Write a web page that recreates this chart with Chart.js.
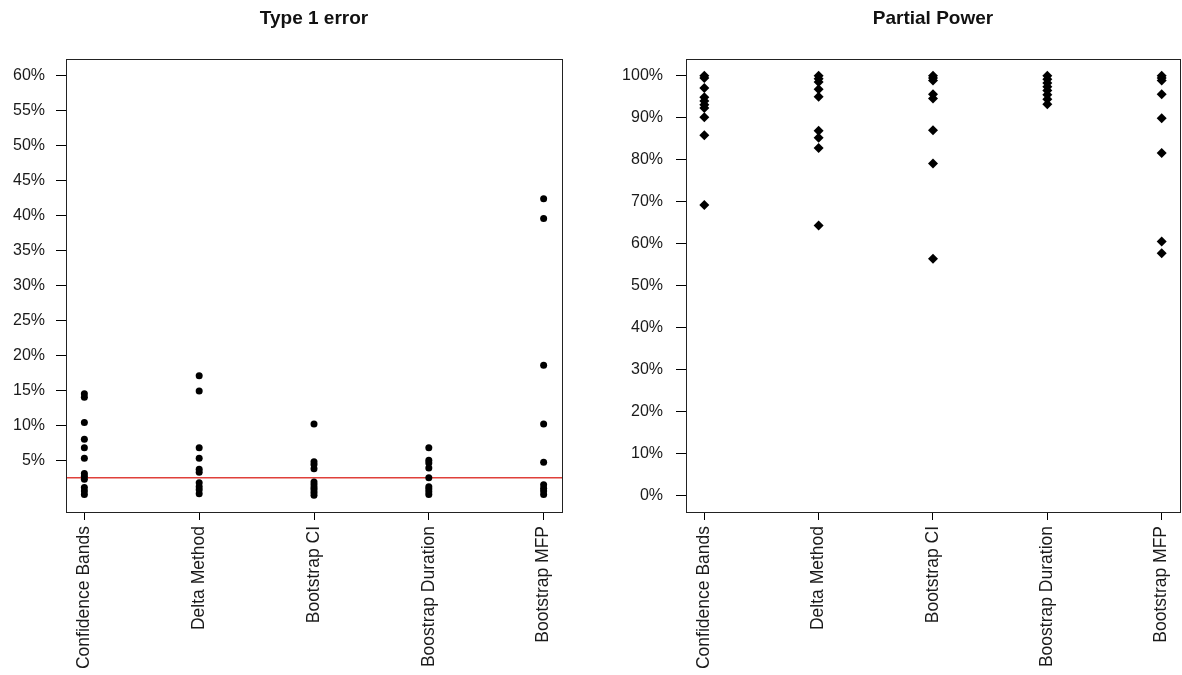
<!DOCTYPE html>
<html>
<head>
<meta charset="utf-8">
<script src="https://cdn.jsdelivr.net/npm/chart.js@4.4.1/dist/chart.umd.min.js"></script>
<style>
  html, body { margin: 0; padding: 0; background: #fff; overflow: hidden; }
  #wrap { position: relative; width: 1182px; height: 675px; overflow: hidden; }
  .cv { position: absolute; top: 0; height: 675px; }
</style>
</head>
<body>
<div id="wrap">
  <div class="cv" style="left:0;width:591px"><canvas id="c1" width="591" height="675"></canvas></div>
  <div class="cv" style="left:591px;width:598px"><canvas id="c2" width="598" height="675"></canvas></div>
</div>
<script>
// ---- data ----
const categories = ['Confidence Bands', 'Delta Method', 'Bootstrap CI', 'Boostrap Duration', 'Bootstrap MFP'];

// Type 1 error (%)
const t1ConfidenceBands = [14.5, 14.0, 10.4, 8.0, 6.8, 5.3, 3.1, 2.7, 2.3, 1.1, 0.6, 0.1];
const t1DeltaMethod     = [17.1, 14.9, 6.8, 5.3, 3.7, 3.3, 1.8, 1.2, 0.8, 0.2];
const t1BootstrapCI     = [10.2, 4.8, 4.4, 3.8, 1.9, 1.5, 1.1, 0.8, 0.4, 0.0];
const t1BootDuration    = [6.8, 5.0, 4.6, 3.9, 2.5, 1.2, 0.9, 0.5, 0.1];
const t1BootstrapMFP    = [42.4, 39.6, 18.6, 10.2, 4.7, 1.5, 1.0, 0.6, 0.1];
const t1Reference = 2.5;
const t1Ticks = [5, 10, 15, 20, 25, 30, 35, 40, 45, 50, 55, 60];

// Partial power (%)
const ppConfidenceBands = [100, 99.5, 97.1, 94.9, 94.0, 93.1, 92.3, 90.1, 85.8, 69.2];
const ppDeltaMethod     = [100, 99.3, 98.5, 96.8, 95.0, 86.9, 85.2, 82.8, 64.3];
const ppBootstrapCI     = [100, 99.5, 98.9, 95.6, 94.6, 87.0, 79.1, 56.4];
const ppBootDuration    = [100, 99.2, 98.3, 97.4, 96.5, 95.5, 94.4, 93.2];
const ppBootstrapMFP    = [100, 99.5, 98.9, 95.6, 89.9, 81.6, 60.5, 57.7];
const ppTicks = [0, 10, 20, 30, 40, 50, 60, 70, 80, 90, 100];

// ---- helpers ----
const FONT = "'Liberation Sans', Arial, sans-serif";
const INK = '#1a1a1a';

function toPoints(groups) {
  const pts = [];
  groups.forEach((arr, i) => arr.forEach(v => pts.push({ x: i + 1, y: v })));
  return pts;
}

const boxPlugin = {
  id: 'box',
  afterDraw(chart) {
    const a = chart.chartArea, ctx = chart.ctx;
    ctx.save();
    ctx.strokeStyle = '#222';
    ctx.lineWidth = 1;
    ctx.strokeRect(Math.round(a.left) + 0.5, Math.round(a.top) + 0.5,
                   Math.round(a.right - a.left), Math.round(a.bottom - a.top));
    ctx.restore();
  }
};

function makeOptions(title, yMin, yMax, yTicks, yWidth, rightPad, yLabelPad) {
  return {
    responsive: false,
    animation: false,
    layout: { padding: { left: 0, right: rightPad, top: 0, bottom: 0 } },
    plugins: {
      legend: { display: false },
      tooltip: { enabled: false },
      title: {
        display: true, text: title, fullSize: false, color: '#111',
        font: { family: FONT, size: 19, weight: 'bold', lineHeight: 1.2 },
        padding: { top: 7, bottom: 29.2 }
      }
    },
    scales: {
      x: {
        type: 'linear', min: 0.84, max: 5.16,
        afterBuildTicks: s => { s.ticks = categories.map((c, i) => ({ value: i + 1 })); },
        afterFit: s => { s.height = 163; },
        ticks: {
          autoSkip: false, minRotation: 90, maxRotation: 90, padding: 6,
          color: INK, font: { family: FONT, size: 17.5 },
          callback: (v) => categories[Math.round(v) - 1]
        },
        grid: { display: true, drawOnChartArea: false, drawTicks: true, tickLength: 8, color: '#000' },
        border: { display: true, color: '#222' }
      },
      y: {
        type: 'linear', min: yMin, max: yMax,
        afterBuildTicks: s => { s.ticks = yTicks.map(v => ({ value: v })); },
        afterFit: s => { s.width = yWidth; },
        ticks: {
          padding: yLabelPad, color: INK, font: { family: FONT, size: 16 },
          callback: v => v + '%'
        },
        grid: { display: true, drawOnChartArea: false, drawTicks: true, tickLength: 10, color: '#000' },
        border: { display: true, color: '#222' }
      }
    }
  };
}

// ---- chart 1: Type 1 error ----
new Chart(document.getElementById('c1'), {
  type: 'scatter',
  data: {
    datasets: [
      {
        type: 'line', data: [{ x: 0.84, y: t1Reference }, { x: 5.16, y: t1Reference }],
        borderColor: '#e0403a', borderWidth: 1.5, pointRadius: 0, fill: false, order: 2
      },
      {
        data: toPoints([t1ConfidenceBands, t1DeltaMethod, t1BootstrapCI, t1BootDuration, t1BootstrapMFP]),
        pointStyle: 'circle', pointRadius: 3.5, backgroundColor: '#000', borderColor: '#000',
        borderWidth: 0, order: 1
      }
    ]
  },
  options: makeOptions('Type 1 error', -2.4, 62.4, t1Ticks, 66, 29, 11),
  plugins: [boxPlugin]
});

// ---- chart 2: Partial Power ----
new Chart(document.getElementById('c2'), {
  type: 'scatter',
  data: {
    datasets: [
      {
        data: toPoints([ppConfidenceBands, ppDeltaMethod, ppBootstrapCI, ppBootDuration, ppBootstrapMFP]),
        pointStyle: 'rectRot', pointRadius: 5, backgroundColor: '#000', borderColor: '#000',
        borderWidth: 0
      }
    ]
  },
  options: makeOptions('Partial Power', -4, 104, ppTicks, 95, 0, 13),
  plugins: [boxPlugin]
});
</script>
</body>
</html>
